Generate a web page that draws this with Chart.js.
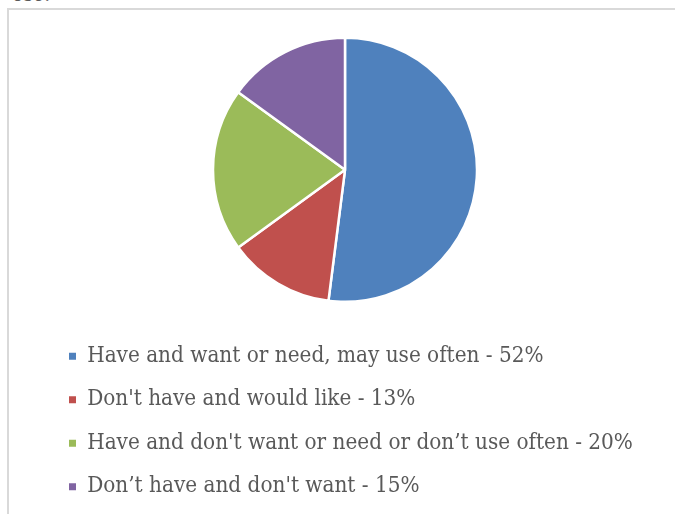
<!DOCTYPE html>
<html>
<head>
<meta charset="utf-8">
<script src="https://cdn.jsdelivr.net/npm/chart.js@4"></script>
<style>
  html, body { margin:0; padding:0; background:#fff; width:675px; height:514px; overflow:hidden; }
  #frame { position:absolute; left:7px; top:8px; width:700px; height:540px; border-left:2px solid #d9d9d9; border-top:2px solid #d9d9d9; }
  #cut { position:absolute; left:12px; top:-18px; font-family:'DejaVu Serif Condensed','DejaVu Serif',serif; font-size:21px; color:#595959; }
  #wrap { position:absolute; left:0; top:0; width:675px; height:517px; }
</style>
</head>
<body>
<div id="frame"></div>
<div id="cut">ose.</div>
<div id="wrap"><canvas id="c" width="675" height="517"></canvas></div>
<script>
const categories = [
  "Have and want or need, may use often - 52%",
  "Don't have and would like - 13%",
  "Have and don't want or need or don\u2019t use often - 20%",
  "Don\u2019t have and don't want - 15%"
];
const values = [52, 13, 20, 15];
const colors = ["#4F81BD", "#C0504D", "#9BBB59", "#8064A2"];

new Chart(document.getElementById('c'), {
  type: 'pie',
  data: {
    labels: categories,
    datasets: [{
      data: values,
      backgroundColor: colors,
      borderColor: '#ffffff',
      borderWidth: 2.5,
      radius: 132
    }]
  },
  options: {
    responsive: false,
    animation: false,
    devicePixelRatio: 1,
    layout: { padding: { left: 47.8, right: 32.8, top: 15.85, bottom: 9.15 } },
    plugins: {
      tooltip: { enabled: false },
      legend: {
        position: 'bottom',
        align: 'start',
        labels: {
          boxWidth: 7,
          boxHeight: 7,
          padding: 21.2,
          color: '#595959',
          font: { family: "'DejaVu Serif Condensed', 'DejaVu Serif', serif", size: 22.3 },
          generateLabels: (chart) => {
            const items = Chart.overrides.pie.plugins.legend.labels.generateLabels(chart);
            return items.map(it => Object.assign(it, { lineWidth: 0, strokeStyle: it.fillStyle }));
          }
        }
      }
    }
  }
});
</script>
</body>
</html>
